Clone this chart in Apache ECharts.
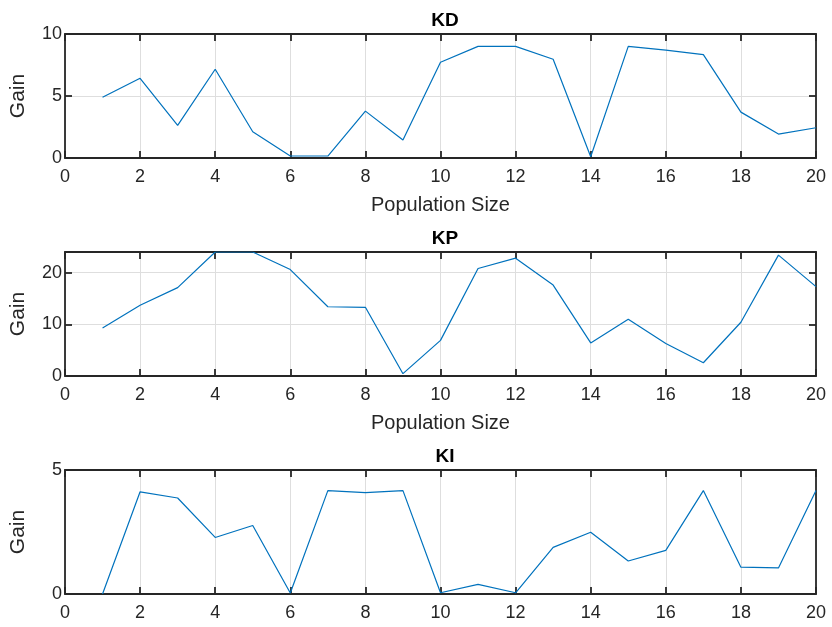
<!DOCTYPE html>
<html><head><meta charset="utf-8">
<script src="https://cdn.jsdelivr.net/npm/echarts@6/dist/echarts.min.js"></script>
<style>html,body{margin:0;padding:0;background:#fff}#c{width:832px;height:627px}</style>
</head><body><div id="c"></div>
<script>
const popSize = [1,2,3,4,5,6,7,8,9,10,11,12,13,14,15,16,17,18,19,20];
const kdGain = [4.9,6.43,2.63,7.16,2.12,0.16,0.16,3.78,1.45,7.72,9.0,9.0,7.96,0.1,9.0,8.7,8.34,3.7,1.93,2.44];
const kpGain = [9.3,13.7,17.1,24,24,20.6,13.4,13.3,0.45,6.9,20.8,22.8,17.6,6.4,11.0,6.3,2.56,10.4,23.4,17.3];
const kiGain = [0,4.12,3.87,2.28,2.76,0.04,4.17,4.09,4.17,0.05,0.39,0.05,1.88,2.49,1.33,1.76,4.17,1.08,1.05,4.17];
const titles = ['KD','KP','KI'];
const yMax = [10, 24, 5];
const yInterval = [5, 10, 5];
const xTicks = [0, 20, 2];

const FONT = '"Liberation Sans", Arial, Helvetica, sans-serif';
const AX = '#262626';
const GRIDC = '#dedede';
const grids = [
  {left:64, right:16, top:34, height:124},
  {left:64, right:16, top:252, height:124},
  {left:64, right:16, top:470, height:124}
];
const seriesData = [kdGain, kpGain, kiGain];
const xAxes = [], yAxes = [], series = [], titleOpts = [];
grids.forEach((g, i) => {
  const showXName = i < 2;
  xAxes.push({
    type:'value', gridIndex:i, min:xTicks[0], max:xTicks[1], interval:xTicks[2], position:'bottom',
    name: showXName ? 'Population Size' : '', nameLocation:'middle', nameGap:37,
    nameTextStyle:{fontFamily:FONT, fontSize:20, color:AX},
    axisLine:{show:true, onZero:false, lineStyle:{color:AX, width:1.8}},
    axisTick:{show:true, inside:true, length:7, lineStyle:{color:AX, width:1.8}},
    axisLabel:{fontFamily:FONT, fontSize:18, color:AX, margin:10},
    splitLine:{show:true, lineStyle:{color:GRIDC, width:1}}
  });
  xAxes.push({
    type:'value', gridIndex:i, min:xTicks[0], max:xTicks[1], interval:xTicks[2], position:'top',
    axisLine:{show:true, onZero:false, lineStyle:{color:AX, width:1.8}},
    axisTick:{show:true, inside:true, length:7, lineStyle:{color:AX, width:1.8}},
    axisLabel:{show:false}, splitLine:{show:false}
  });
  yAxes.push({
    type:'value', gridIndex:i, min:0, max:yMax[i], interval:yInterval[i], position:'left',
    name:'Gain', nameLocation:'middle', nameGap:36, nameRotate:90,
    nameTextStyle:{fontFamily:FONT, fontSize:21, color:AX},
    axisLine:{show:true, onZero:false, lineStyle:{color:AX, width:1.8}},
    axisTick:{show:true, inside:true, length:7, lineStyle:{color:AX, width:1.8}},
    axisLabel:{fontFamily:FONT, fontSize:18, color:AX, margin:3, showMaxLabel: i !== 1},
    splitLine:{show:true, lineStyle:{color:GRIDC, width:1}}
  });
  yAxes.push({
    type:'value', gridIndex:i, min:0, max:yMax[i], interval:yInterval[i], position:'right',
    axisLine:{show:true, onZero:false, lineStyle:{color:AX, width:1.8}},
    axisTick:{show:true, inside:true, length:7, lineStyle:{color:AX, width:1.8}},
    axisLabel:{show:false}, splitLine:{show:false}
  });
  series.push({
    type:'line', xAxisIndex:2*i, yAxisIndex:2*i, showSymbol:false, symbol:'none',
    lineStyle:{color:'#0072BD', width:1.2}, animation:false,
    data: popSize.map((x, k) => [x, seriesData[i][k]])
  });
  titleOpts.push({
    text:titles[i], left:440, textAlign:'center', top:g.top - 28,
    textStyle:{fontFamily:FONT, fontSize:19, fontWeight:'bold', color:'#000'}
  });
});
const chart = echarts.init(document.getElementById('c'), null, {renderer:'canvas'});
chart.setOption({
  animation:false,
  backgroundColor:'#fff',
  title:titleOpts,
  grid:grids,
  xAxis:xAxes,
  yAxis:yAxes,
  series:series
});
</script></body></html>
